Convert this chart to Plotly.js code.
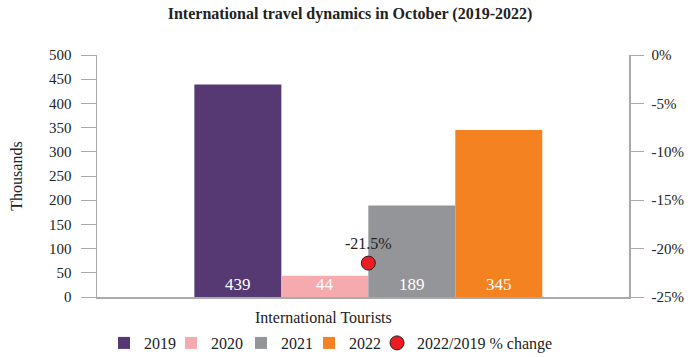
<!DOCTYPE html>
<html><head><meta charset="utf-8">
<script src="https://cdn.plot.ly/plotly-3.0.1.min.js"></script>
<style>body{margin:0;background:#fff}#chart{width:700px;height:357px}</style>
</head><body><div id="chart"></div>
<script>
const category = ["International Tourists"];
const years = ["2019", "2020", "2021", "2022"];
const tourists = [439, 44, 189, 345];
const colors = ["#563872", "#f5abae", "#939598", "#f58220"];
const changeLabel = "2022/2019 % change";
const changeValue = [-0.215];
const leftTicks = [0, 50, 100, 150, 200, 250, 300, 350, 400, 450, 500];
const rightTicks = [0, -0.05, -0.10, -0.15, -0.20, -0.25];
const rightTickText = ["0%", "-5%", "-10%", "-15%", "-20%", "-25%"];

const F = "Liberation Serif, DejaVu Serif, serif";
const legendNames = ["legend", "legend2", "legend3", "legend4", "legend5"];
const traces = years.map((y, i) => ({
  type: "bar", name: y, x: category, y: [tourists[i]],
  marker: {color: colors[i]}, legend: legendNames[i],
  text: [String(tourists[i])], textposition: "inside", insidetextanchor: "start",
  textangle: 0, constraintext: "none", cliponaxis: false,
  textfont: {color: "#fff", size: 17, family: F},
  hoverinfo: "skip"
}));
traces.push({
  type: "scatter", mode: "markers+text", name: changeLabel, x: category, y: changeValue, yaxis: "y2",
  legend: legendNames[4],
  marker: {color: "#ed1c24", size: 14, line: {color: "#222", width: 1}},
  text: changeValue.map(v => (v * 100).toFixed(1) + "%"), textposition: "top center",
  textfont: {color: "#222", size: 16, family: F}, cliponaxis: false
});

const legendPx = [104, 171, 241, 309, 377];
const layout = {
  width: 700, height: 357,
  margin: {l: 97, r: 71, t: 55, b: 60, autoexpand: false},
  paper_bgcolor: "#fff", plot_bgcolor: "#fff",
  font: {family: F, color: "#222", size: 15},
  title: {text: "<b>International travel dynamics in October (2019-2022)</b>", x: 0.5, xanchor: "center", y: 0.962, yanchor: "middle", font: {size: 16, family: F, color: "#222"}},
  barmode: "group", bargap: 0.346, bargroupgap: 0,
  xaxis: {type: "category", range: [-0.51, 0.49], showticklabels: false, ticks: "", showline: true, linecolor: "#aaa", linewidth: 1.5, showgrid: false, zeroline: false, fixedrange: true},
  yaxis: {range: [0, 500], tickvals: leftTicks, ticks: "outside", ticklen: 15, tickcolor: "#aaa", ticklabelstandoff: 6, showline: true, linecolor: "#aaa", linewidth: 1.5, showgrid: false, zeroline: false,
    title: {text: "Thousands", font: {size: 16, family: F}, standoff: 22}, tickfont: {size: 15, family: F}},
  yaxis2: {overlaying: "y", side: "right", range: [-0.25, 0], tickvals: rightTicks, ticktext: rightTickText, ticks: "outside", ticklen: 13, tickcolor: "#aaa", ticklabelstandoff: 5, showline: true, linecolor: "#aaa", linewidth: 1.5, showgrid: false, zeroline: false, tickfont: {size: 15, family: F}},
  showlegend: true,
  annotations: [{text: category[0], xref: "paper", yref: "paper", x: (323 - 97) / 532, y: -(317 - 297) / 242, xanchor: "center", yanchor: "middle", showarrow: false, font: {size: 16, family: F, color: "#222"}}]
};
legendNames.forEach((ln, i) => {
  layout[ln] = {orientation: "h", x: (legendPx[i] - 97) / 532, xanchor: "left", y: -(343 - 297) / 242, yanchor: "middle", font: {size: 16, family: F}, itemwidth: 30, bgcolor: "rgba(0,0,0,0)"};
});
Plotly.newPlot("chart", traces, layout, {displayModeBar: false, staticPlot: true});
</script></body></html>
